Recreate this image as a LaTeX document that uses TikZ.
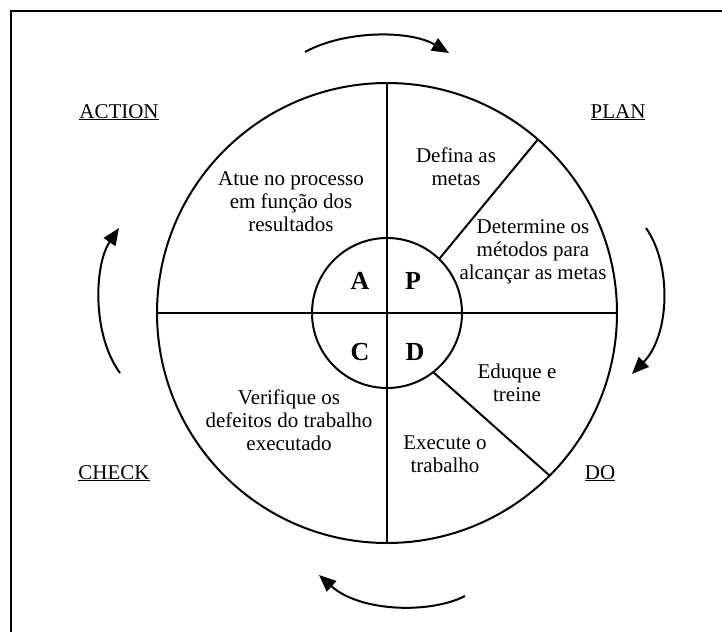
\documentclass[tikz,border=0pt]{standalone}
\usepackage{fontspec}
\setmainfont{Liberation Serif}
\usetikzlibrary{arrows.meta}
\begin{document}
\begin{tikzpicture}[x=1pt,y=-1pt,
  ring/.style={circle,draw,line width=2pt,inner sep=0pt,outer sep=0pt},
  ringline/.style={line width=2pt},
  frameline/.style={line width=2.5pt},
  txt/.style={font=\fontsize{21}{23}\selectfont,align=center,anchor=north,inner sep=0pt},
  lab/.style={font=\fontsize{21}{23}\selectfont,anchor=base,inner sep=0pt},
  quad/.style={font=\fontsize{26}{28}\selectfont\bfseries,anchor=base,inner sep=0pt},
  cyc/.style={line width=2pt,-{Triangle[length=17pt,width=14pt]}}]
\useasboundingbox (0,0) rectangle (722,632);
% frame
\coordinate (fbl) at (11,632);
\coordinate (ftl) at (11,11);
\coordinate (ftr) at (722,11);
\draw[frameline] (fbl) -- (ftl) -- (ftr);
% wheel
\coordinate (c) at (387,313);
\node[ring,minimum size=460pt] (big) at (c) {};
\draw[ringline] (big.north) -- (big.south);
\draw[ringline] (big.west) -- (big.east);
\node[ring,minimum size=150pt] (small) at (c) {};
\draw[ringline] (small.46) -- (big.49);
\draw[ringline] (small.-52) -- (big.-45);
% quadrant letters
\node[quad] (qa) at (360,289) {A};
\node[quad] (qp) at (413,289) {P};
\node[quad] (qc) at (360,360) {C};
\node[quad] (qd) at (415,360) {D};
% texts
\node[txt] (defina) at (456,148) {Defina as\\metas};
\node[txt] (determine) at (533,219) {Determine os\\métodos para\\alcançar as metas};
\node[txt] (atue) at (291,171) {Atue no processo\\em função dos\\resultados};
\node[txt] (verifique) at (289,390) {Verifique os\\defeitos do trabalho\\executado};
\node[txt] (eduque) at (517,364) {Eduque e\\treine};
\node[txt] (execute) at (445,436) {Execute o\\trabalho};
% labels
\node[lab] (action) at (119,118) {\underline{ACTION}};
\node[lab] (plan) at (618,118) {\underline{PLAN}};
\node[lab] (check) at (114,479) {\underline{CHECK}};
\node[lab] (do) at (600,479) {\underline{DO}};
% cycle arrows
\coordinate (t1) at (305,52);  \coordinate (t2) at (449,53);
\coordinate (r1) at (646,228); \coordinate (r2) at (632,374);
\coordinate (b1) at (465,596); \coordinate (b2) at (319,575);
\coordinate (l1) at (120,373); \coordinate (l2) at (119,228);
\draw[cyc] (t1) .. controls (345,30) and (410,30) .. (t2);
\draw[cyc] (r1) .. controls (672,265) and (670,335) .. (r2);
\draw[cyc] (b1) .. controls (430,614) and (360,612) .. (b2);
\draw[cyc] (l1) .. controls (92,335) and (94,265) .. (l2);
\end{tikzpicture}
\end{document}
